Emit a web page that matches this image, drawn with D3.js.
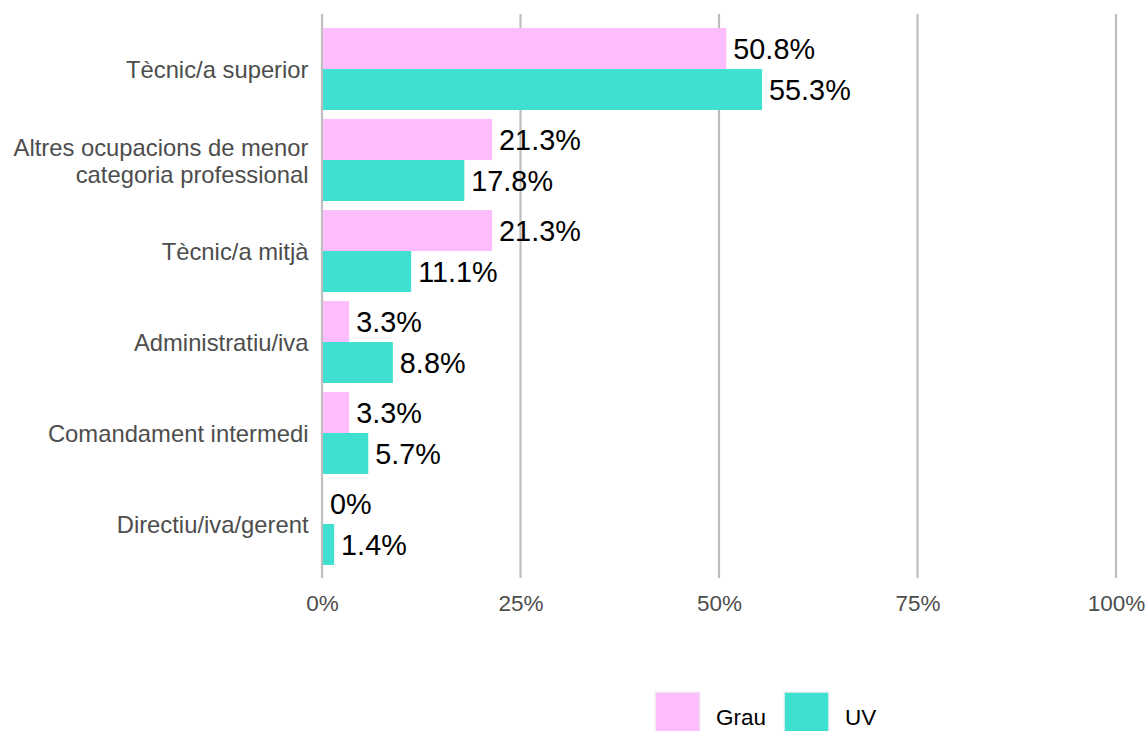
<!DOCTYPE html>
<html>
<head>
<meta charset="utf-8">
<script src="https://cdn.jsdelivr.net/npm/d3@7"></script>
<style>
  html, body { margin: 0; padding: 0; background: #fff; }
  svg { display: block; font-family: "Liberation Sans", Arial, sans-serif; }
</style>
</head>
<body>
<svg id="chart" width="1148" height="731"></svg>
<script>
// Occupation categories, top to bottom
const categories = [
  "Tècnic/a superior",
  "Altres ocupacions de menor\ncategoria professional",
  "Tècnic/a mitjà",
  "Administratiu/iva",
  "Comandament intermedi",
  "Directiu/iva/gerent"
];
const seriesNames = ["Grau", "UV"];
const grauValues = [50.8, 21.3, 21.3, 3.3, 3.3, 0];
const uvValues = [55.3, 17.8, 11.1, 8.8, 5.7, 1.4];
const tickValues = [0, 25, 50, 75, 100];
const tickLabels = ["0%", "25%", "50%", "75%", "100%"];
const colors = ["#FDBDFD", "#40E0D0"];

const svg = d3.select("#chart");

const x = d3.scaleLinear().domain([0, 100]).range([322, 1116]);
const y = d3.scaleBand().domain(categories).range([23.5, 569.5]).paddingInner(0.099).paddingOuter(0.05);
const sub = d3.scaleBand().domain(seriesNames).range([0, y.bandwidth()]);

const panelTop = 14, panelBottom = 578;

// vertical grid lines
svg.append("g").selectAll("line").data(tickValues).join("line")
  .attr("x1", d => x(d)).attr("x2", d => x(d))
  .attr("y1", panelTop).attr("y2", panelBottom)
  .attr("stroke", "#bebebe").attr("stroke-width", 2.2);

// x axis tick labels
const xAxis = d3.axisBottom(x).tickValues(tickValues)
  .tickFormat((d, i) => tickLabels[i]).tickSize(0).tickPadding(0);
const gx = svg.append("g").attr("transform", `translate(0,${panelBottom})`).call(xAxis);
gx.select(".domain").remove();
gx.selectAll("text").attr("dy", null).attr("y", 33)
  .attr("font-size", 22.5).attr("fill", "#4d4d4d")
  .attr("font-family", "Liberation Sans, Arial, sans-serif");

// category labels
const gy = svg.append("g");
categories.forEach(c => {
  const lines = c.split("\n");
  const cy = y(c) + y.bandwidth() / 2;
  const t = gy.append("text").attr("text-anchor", "end")
    .attr("font-size", 23.8).attr("fill", "#4d4d4d");
  lines.forEach((ln, i) => {
    t.append("tspan").attr("x", 308.5)
      .attr("y", cy + 1 + (i - (lines.length - 1) / 2) * 27)
      .attr("dy", "0.35em").text(ln);
  });
});

// bars and value labels
const rows = [];
categories.forEach((c, i) => {
  rows.push({ cat: c, s: "Grau", v: grauValues[i], col: colors[0] });
  rows.push({ cat: c, s: "UV", v: uvValues[i], col: colors[1] });
});

svg.append("g").selectAll("rect").data(rows).join("rect")
  .attr("x", x(0) + 1)
  .attr("y", d => y(d.cat) + sub(d.s))
  .attr("width", d => Math.max(0, x(d.v) - x(0)))
  .attr("height", sub.bandwidth())
  .attr("fill", d => d.col);

svg.append("g").selectAll("text").data(rows).join("text")
  .attr("x", d => x(d.v) + 8)
  .attr("y", d => y(d.cat) + sub(d.s) + sub.bandwidth() / 2)
  .attr("dy", "0.36em")
  .attr("font-size", 28.8).attr("fill", "#000")
  .text(d => (d.v === 0 ? "0" : d3.format(".1f")(d.v)) + "%");

// legend
const legend = svg.append("g");
const lx = [655, 784];
seriesNames.forEach((s, i) => {
  legend.append("rect").attr("x", lx[i]).attr("y", 692)
    .attr("width", 45).attr("height", 42)
    .attr("fill", colors[i]).attr("stroke", "#f2f2f2").attr("stroke-width", 1.5);
  legend.append("text").attr("x", lx[i] + 61).attr("y", 725)
    .attr("font-size", 22.5).attr("fill", "#000").text(s);
});
</script>
</body>
</html>
